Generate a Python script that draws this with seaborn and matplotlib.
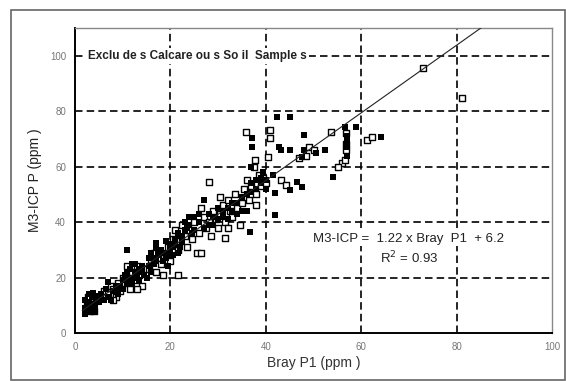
import numpy as np
import matplotlib
matplotlib.use('Agg')
import matplotlib.pyplot as plt
import seaborn as sns
from matplotlib.patches import Rectangle

# open squares (x = Bray P1, y = M3-ICP P)
open_x = [2.5, 3, 3.5, 4, 4, 2.8, 5, 3.2,
          6, 7, 7.5, 8, 8.5, 9, 9.5, 10, 8,
          10.5, 11, 11.5, 12, 12.5, 13, 13.5, 14, 14.5, 11, 13,
          15.5, 16, 16.5, 17, 17.5, 18, 18.5, 19, 19.5, 20,
          20.5, 21, 21.5, 22, 22.5, 23, 23.5, 21.5, 24, 24.5, 25, 25.5, 26.5,
          26, 27, 27.5, 28, 28.5, 29, 29.5, 28, 26.5, 30,
          30.5, 31, 31.5, 31.4, 32, 32.5, 33, 33.5, 34, 34.5, 35, 35.5, 30.5, 32,
          36, 36.5, 37, 37.5, 37.8, 38, 38.5, 39, 39.5, 40, 35.9, 38,
          40.5, 40.8, 40.8, 43.1, 44.2, 49.1, 48.5, 50, 47,
          53.7, 56.8, 56.8, 56.8, 55.9, 55.2, 56.5, 61.2, 62.3,
          72.9, 81.2]
open_y = [10, 12, 9, 11, 8, 13, 13, 8,
          15, 14, 17, 16, 13, 18, 15, 20, 12,
          18, 21, 16, 22, 19, 24, 21, 17, 23, 24, 16,
          23, 26, 29, 22, 27, 25, 21, 28, 31, 26,
          34, 37, 30, 33, 39, 35, 31, 21, 37, 34, 40, 29, 29,
          36, 42, 38, 40, 35, 44, 41, 54.6, 45, 38,
          43, 46, 40, 34.2, 48, 44, 42, 50, 45, 39, 47, 52, 49, 38,
          55, 48, 53, 60, 62.4, 50, 57, 53, 56, 54, 72.6, 46,
          63.6, 73.2, 70.2, 55.2, 53.4, 67.2, 64, 66, 63,
          72.6, 72, 68, 66, 61.2, 60, 62.5, 69.6, 70.6,
          95.4, 84.6]

# filled squares
fill_x = [2, 2.5, 3, 3.5, 4, 4.5, 3, 4, 5, 3.8,
          2.2, 2.8, 3.3, 4.2, 4.8, 2,
          6, 7, 8, 9, 9.5, 10, 10.5, 11, 11.5, 12, 12.5, 13, 13.5, 14, 14.5, 15, 10,
          5.5, 6.5, 7.5, 8.5, 9, 7,
          10.5, 11, 11.5, 12, 12.5, 13, 13.5, 14, 12,
          15.5, 16, 16.5, 17, 17.5, 18, 18.5, 19, 19.5, 20, 20.5, 11, 17,
          15.5, 16, 16.5, 17, 17.5, 18.5, 19, 19.5, 20,
          21, 21.5, 22, 22.5, 23, 23.5, 24, 25, 26, 27, 28, 29, 30, 31, 32, 33, 34, 35,
          20.5, 21, 21.5, 22, 22.5, 23, 24, 24.5, 25,
          26, 27, 28, 29, 30, 31, 32, 33, 34, 35,
          36, 37, 38, 39, 40, 36, 37, 38, 39, 39.5, 40,
          36.7, 41.6, 45, 46.5, 47.6, 41.9, 41.9,
          37.1, 37.1, 37, 42.7, 43.1, 45, 48, 47.6, 50.6, 48, 42.4, 45, 52.5, 54,
          57, 57, 57, 57, 56.7, 58.9, 64.2]
fill_y = [7, 11, 9, 13, 10, 12, 14, 7.5, 11, 14.5,
          9, 7.5, 10.5, 9, 13.5, 12,
          12, 13, 15, 14, 17, 19, 21, 18, 23, 20, 25, 22, 19, 24, 21, 20, 16,
          14, 16, 12, 17, 16, 18.5,
          19, 22, 20, 18, 22, 20, 23, 22, 25,
          27, 29, 25, 31, 28, 30, 26, 33, 24, 30, 28, 30, 32.5,
          24, 22, 27, 26, 30, 29, 27, 29, 32,
          32, 36, 31, 35, 40, 38, 42, 37, 43, 48, 39, 42, 45, 44, 41, 47, 43, 49,
          31, 34, 29, 35, 33, 37, 39, 36, 42,
          40, 38, 43, 39, 41, 42, 45, 44, 47, 44,
          44, 51, 55, 56, 52, 50, 54, 52, 54, 58, 55,
          36.6, 57, 51.6, 54.6, 52.8, 50.4, 42.6,
          70.2, 67.2, 60, 67.2, 66, 66, 66, 63.6, 64.8, 71.4, 78, 78, 66, 56.4,
          71, 69, 67, 64, 74.4, 74.4, 70.8]

# fitted line
slope = 1.22
intercept = 6.2
fit_x = np.array([1.5, 92])

x_ticks = [0, 20, 40, 60, 80, 100]
y_ticks = [0, 20, 40, 60, 80, 100]
grid_x = [20, 40, 60, 80]
grid_y = [20, 40, 60, 80, 100]

sns.set_style('white')
plt.rcParams['font.family'] = ['Liberation Sans', 'DejaVu Sans']

fig = plt.figure(figsize=(5.66, 3.81), dpi=100)
ax = fig.add_axes([0.1325, 0.126, 0.8428, 0.8005])

# outer frame of the picture
fig.patches.append(Rectangle((11 / 566, 1 / 381), 554 / 566, 370 / 381,
                             transform=fig.transFigure, fill=False,
                             edgecolor='#666666', lw=1.2))

for gx in grid_x:
    ax.axvline(gx, color='black', lw=1.2, ls=(0, (4.5, 2.5)), zorder=1)
for gy in grid_y:
    ax.axhline(gy, color='black', lw=1.2, ls=(0, (4.5, 2.5)), zorder=1)

ax.plot(fit_x, slope * fit_x + intercept, color='#222222', lw=0.8, zorder=4)

sns.scatterplot(x=open_x, y=open_y, marker='s', facecolor='white',
                edgecolor='black', s=14, linewidth=1.0, ax=ax, zorder=3)
sns.scatterplot(x=fill_x, y=fill_y, marker='s', color='black', s=13,
                linewidth=0, ax=ax, zorder=3.5)

ax.set_xlim(0, 100)
ax.set_ylim(0, 110)
ax.set_xticks(x_ticks)
ax.set_yticks(y_ticks)
ax.tick_params(direction='inout', length=5, width=1, colors='black',
               labelcolor='#777777', labelsize=7, pad=4)

for side in ['left', 'bottom']:
    ax.spines[side].set_color('black')
    ax.spines[side].set_linewidth(1.4)
for side in ['right', 'top']:
    ax.spines[side].set_color('#888888')
    ax.spines[side].set_linewidth(1.0)

ax.set_xlabel('Bray P1 (ppm )', fontsize=10, color='#333333', labelpad=3)
ax.set_ylabel('M3-ICP P (ppm )', fontsize=10, color='#222222', labelpad=6)

ax.text(2.8, 100, 'Exclu de s Calcare ou s So il  Sample s', fontsize=8.5,
        fontweight='bold', color='#222222', va='center', ha='left', zorder=5,
        bbox=dict(facecolor='white', edgecolor='none', pad=1.5))
ax.text(70, 34, 'M3-ICP =  1.22 x Bray  P1  + 6.2', fontsize=9.5,
        color='#222222', ha='center', va='center', zorder=5,
        bbox=dict(facecolor='white', edgecolor='none', pad=1))
ax.text(70, 27, 'R$^2$ = 0.93', fontsize=9.5, color='#222222',
        ha='center', va='center', zorder=5,
        bbox=dict(facecolor='white', edgecolor='none', pad=1))

fig.savefig('out.png', dpi=100)
